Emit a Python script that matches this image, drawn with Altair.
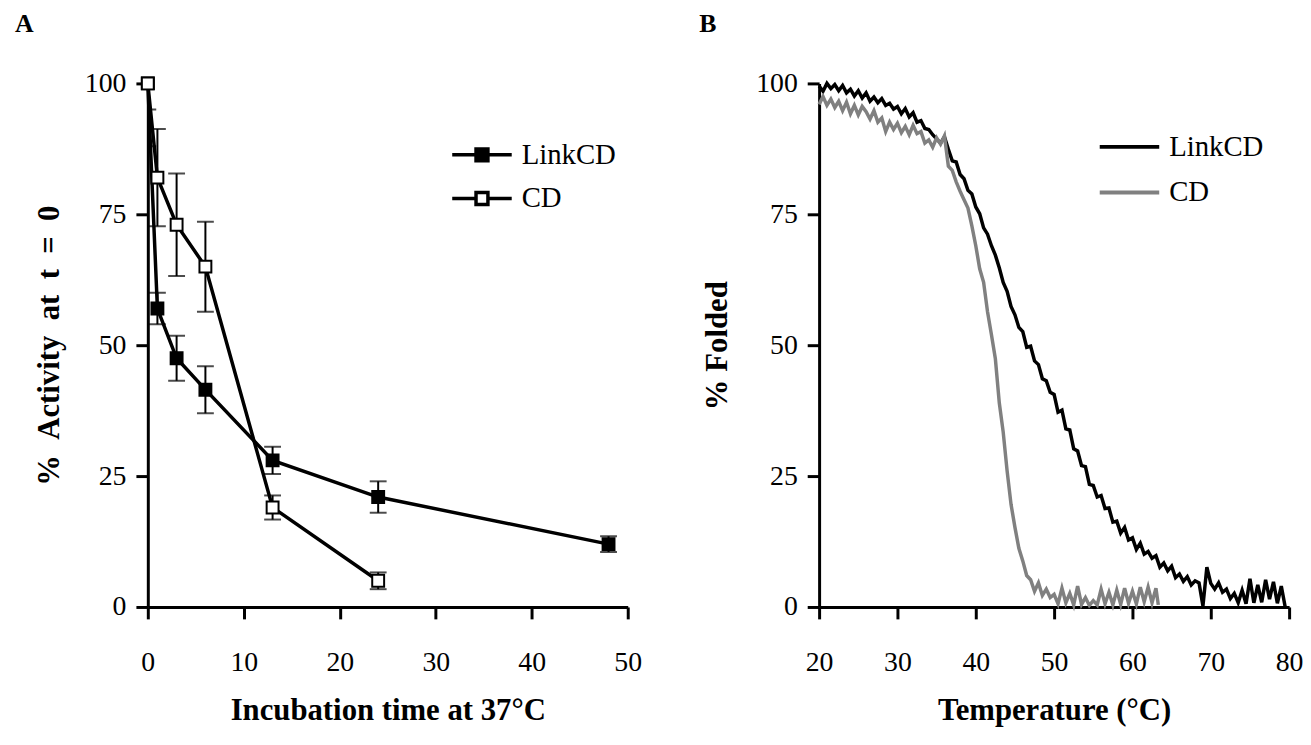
import altair as alt
import pandas as pd

# ---------------- Panel A data ----------------
link_time = [0, 1, 3, 6, 13, 24, 48]
link_act = [100, 57, 47.5, 41.5, 28, 21, 12]
link_err = [5, 3, 4.3, 4.5, 2.6, 3, 1.5]
cd_time = [0, 1, 3, 6, 13, 24]
cd_act = [100, 82, 73, 65, 19, 5]
cd_err = [12, 9.3, 9.8, 8.6, 2.3, 1.6]

# ---------------- Panel B data ----------------
link_temp = [20.0, 20.5, 21.0, 21.5, 22.0, 22.5, 23.0, 23.5, 24.0, 24.5, 25.0, 25.5, 26.0, 26.5, 27.0, 27.5,
             28.0, 28.5, 29.0, 29.5, 30.0, 30.5, 31.0, 31.5, 32.0, 32.5, 33.0, 33.5, 34.0, 34.5, 35.0, 35.5,
             36.0, 36.5, 37.0, 37.5, 38.0, 38.5, 39.0, 39.5, 40.0, 40.5, 41.0, 41.5, 42.0, 42.5, 43.0, 43.5,
             44.0, 44.5, 45.0, 45.5, 46.0, 46.5, 47.0, 47.5, 48.0, 48.5, 49.0, 49.5, 50.0, 50.5, 51.0, 51.5,
             52.0, 52.5, 53.0, 53.5, 54.0, 54.5, 55.0, 55.5, 56.0, 56.5, 57.0, 57.5, 58.0, 58.5, 59.0, 59.5,
             60.0, 60.5, 61.0, 61.5, 62.0, 62.5, 63.0, 63.5, 64.0, 64.5, 65.0, 65.5, 66.0, 66.5, 67.0, 67.5,
             68.0, 68.5, 69.0, 69.5, 70.0, 70.5, 71.0, 71.5, 72.0, 72.5, 73.0, 73.5, 74.0, 74.5, 75.0, 75.5,
             76.0, 76.5, 77.0, 77.5, 78.0, 78.5, 79.0, 79.5]
link_fold = [99.5, 98.5, 100, 99, 99.8, 98.6, 99.6, 98.2, 98.9, 97.6, 98.6, 97.2, 98.2, 96.6, 97.4, 96.3,
             97.1, 95.8, 96.2, 95.1, 95.6, 94.2, 95.2, 93.6, 94.4, 92.6, 92.9, 91.4, 91.2, 90.2, 89.4, 88.6,
             89.8, 87.4, 85.2, 85.0, 82.6, 81.8, 79.6, 78.9, 76.4, 75.1, 72.4, 71.2, 69.0, 67.2, 64.8, 62.0,
             60.3, 57.4, 55.8, 53.4, 52.6, 49.6, 49.8, 47.0, 46.3, 43.6, 43.2, 41.0, 40.6, 37.2, 37.6, 34.0,
             33.8, 30.2, 29.8, 27.0, 26.8, 23.4, 23.2, 21.0, 21.3, 18.8, 18.9, 16.2, 16.4, 14.1, 15.2, 12.8,
             13.2, 11.0, 12.2, 10.1, 10.6, 9.3, 9.8, 7.6, 8.4, 6.9, 7.8, 5.6, 6.3, 4.9, 5.8, 4.2,
             5.0, 4.6, 0.2, 7.6, 4.5, 3.4, 4.6, 2.8, 3.4, 1.6, 2.6, 0.8, 3.2, 0.6, 5.4, 0.8,
             4.2, 0.9, 5.2, 1.5, 4.8, 0.7, 4.0, 0.0]

cd_temp = [20.0, 20.5, 21.0, 21.5, 22.0, 22.5, 23.0, 23.5, 24.0, 24.5, 25.0, 25.5, 26.0, 26.5, 27.0, 27.5,
           28.0, 28.5, 29.0, 29.5, 30.0, 30.5, 31.0, 31.5, 32.0, 32.5, 33.0, 33.5, 34.0, 34.5, 35.0, 35.5,
           36.0, 36.5, 37.0, 37.5, 38.0, 38.5, 39.0, 39.5, 40.0, 40.5, 41.0, 41.5, 42.0, 42.5, 43.0, 43.5,
           44.0, 44.5, 45.0, 45.5, 46.0, 46.5, 47.0, 47.5, 48.0, 48.5, 49.0, 49.5, 50.0, 50.5, 51.0, 51.5,
           52.0, 52.5, 53.0, 53.5, 54.0, 54.5, 55.0, 55.5, 56.0, 56.5, 57.0, 57.5, 58.0, 58.5, 59.0, 59.5,
           60.0, 60.5, 61.0, 61.5, 62.0, 62.5, 63.0, 63.3]
cd_fold = [96.0, 97.5, 95.8, 97.0, 95.4, 96.6, 94.8, 96.4, 94.2, 95.8, 94.0, 95.6, 94.6, 93.2, 94.8, 92.6,
           93.4, 90.8, 92.6, 91.2, 92.4, 90.6, 91.8, 90.2, 92.0, 90.4, 90.8, 88.6, 89.2, 87.8, 89.6, 88.4,
           90.0, 84.2, 83.4, 81.2, 79.4, 77.8, 76.2, 72.8, 69.0, 64.6, 62.0, 56.4, 52.0, 47.4, 39.0, 33.4,
           26.0, 19.6, 15.2, 11.2, 8.8, 6.0, 5.2, 3.0, 4.6, 2.2, 3.4, 1.8, 2.4, 0.6, 3.6, 0.8,
           2.6, 0.4, 4.0, 0.5, 1.8, 0.3, 1.2, 0.4, 3.4, 0.6, 2.8, 0.4, 3.2, 0.5, 3.6, 0.7,
           3.0, 0.6, 3.8, 1.0, 3.8, 0.8, 3.6, 0.4]

series_names = ["LinkCD", "CD"]
FONT = "Liberation Serif"

dfA = pd.concat([
    pd.DataFrame({"t": link_time, "v": link_act, "e": link_err, "s": "LinkCD"}),
    pd.DataFrame({"t": cd_time, "v": cd_act, "e": cd_err, "s": "CD"}),
], ignore_index=True)
dfA["lo"] = dfA["v"] - dfA["e"]
dfA["hi"] = dfA["v"] + dfA["e"]

dfB_link = pd.DataFrame({"T": link_temp, "f": link_fold, "s": "LinkCD"})
dfB_cd = pd.DataFrame({"T": cd_temp, "f": cd_fold, "s": "CD"})

yscale = alt.Scale(domain=[0, 100], nice=False)

xA = alt.X("t:Q", scale=alt.Scale(domain=[0, 50], nice=False),
           axis=alt.Axis(values=[0, 10, 20, 30, 40, 50], title="Incubation time at 37°C",
                         labelPadding=30, titlePadding=19, labelFlush=False))
yA = alt.Y("v:Q", scale=yscale,
           axis=alt.Axis(values=[0, 25, 50, 75, 100],
                         title="%\u2002Activity\u2002at\u2002t\u2002=\u20020",
                         labelPadding=10, titlePadding=19))

baseA = alt.Chart(dfA)
linesA = baseA.mark_line(color="black", strokeWidth=3.5).encode(x=xA, y=yA, detail="s:N")
rulesA = baseA.mark_rule(color="black", strokeWidth=2, clip=True).encode(x="t:Q", y="lo:Q", y2="hi:Q")
capLo = baseA.mark_tick(orient="horizontal", color="black", size=17, thickness=2, clip=True).encode(
    x="t:Q", y="lo:Q")
capHi = baseA.mark_tick(orient="horizontal", color="black", size=17, thickness=2, clip=True).encode(
    x="t:Q", y="hi:Q")
sq_path = "M-2,0H-0.4M0.4,0H2M-0.4,-0.4H0.4V0.4H-0.4Z"
ptsA = baseA.mark_square(size=144, stroke="black", opacity=1).encode(
    x="t:Q", y="v:Q",
    fill=alt.Fill("s:N", scale=alt.Scale(domain=series_names, range=["black", "white"]),
                  legend=alt.Legend(title=None, orient="none", legendX=320, legendY=55,
                                    symbolType=sq_path, symbolSize=900,
                                    symbolStrokeColor="black", symbolStrokeWidth=3.5,
                                    symbolOpacity=1,
                                    labelFont=FONT, labelFontSize=29, labelColor="black",
                                    labelOffset=23, rowPadding=12, padding=0)))

panelA = alt.layer(linesA, rulesA, capLo, capHi, ptsA).properties(
    width=484, height=528,
    title=alt.TitleParams("A", anchor="start", frame="group", dx=-134, offset=33,
                          font=FONT, fontSize=26, fontWeight="bold", color="black"))

xB = alt.X("T:Q", scale=alt.Scale(domain=[20, 80], nice=False),
           axis=alt.Axis(values=[20, 30, 40, 50, 60, 70, 80], title="Temperature (°C)",
                         labelPadding=30, titlePadding=19, labelFlush=False))
yB = alt.Y("f:Q", scale=yscale,
           axis=alt.Axis(values=[0, 25, 50, 75, 100], title="% Folded",
                         labelPadding=10, titlePadding=22))
strokeB = alt.Stroke("s:N", scale=alt.Scale(domain=series_names, range=["black", "#808080"]),
                     legend=alt.Legend(title=None, orient="none", legendX=296, legendY=47,
                                       symbolType="M-2,0H2", symbolSize=900, symbolStrokeWidth=4,
                                       symbolOpacity=1,
                                       labelFont=FONT, labelFontSize=29, labelColor="black",
                                       labelOffset=23, rowPadding=14, padding=0))
lineLink = alt.Chart(dfB_link).mark_line(strokeWidth=3.5).encode(x=xB, y=yB, stroke=strokeB)
lineCD = alt.Chart(dfB_cd).mark_line(strokeWidth=3.5).encode(x=xB, y=yB, stroke=strokeB)

panelB = alt.layer(lineLink, lineCD).properties(
    width=474, height=528,
    title=alt.TitleParams("B", anchor="start", frame="group", dx=-121, offset=33,
                          font=FONT, fontSize=26, fontWeight="bold", color="black"))

chart = alt.hconcat(panelA, panelB, spacing=58).resolve_legend(
    fill="independent", stroke="independent"
).resolve_scale(fill="independent", stroke="independent").properties(
    padding={"left": 7, "top": 0, "right": 0, "bottom": 0}
).configure_view(stroke=None).configure_axis(
    grid=False, domainColor="black", domainWidth=3, tickColor="black", tickWidth=3, tickSize=12,
    labelFont=FONT, labelFontSize=28, labelColor="black",
    titleFont=FONT, titleFontSize=31, titleFontWeight="bold", titleColor="black"
).configure_title(font=FONT)

chart.save("out.html", embed_options={"renderer": "svg", "actions": False})
